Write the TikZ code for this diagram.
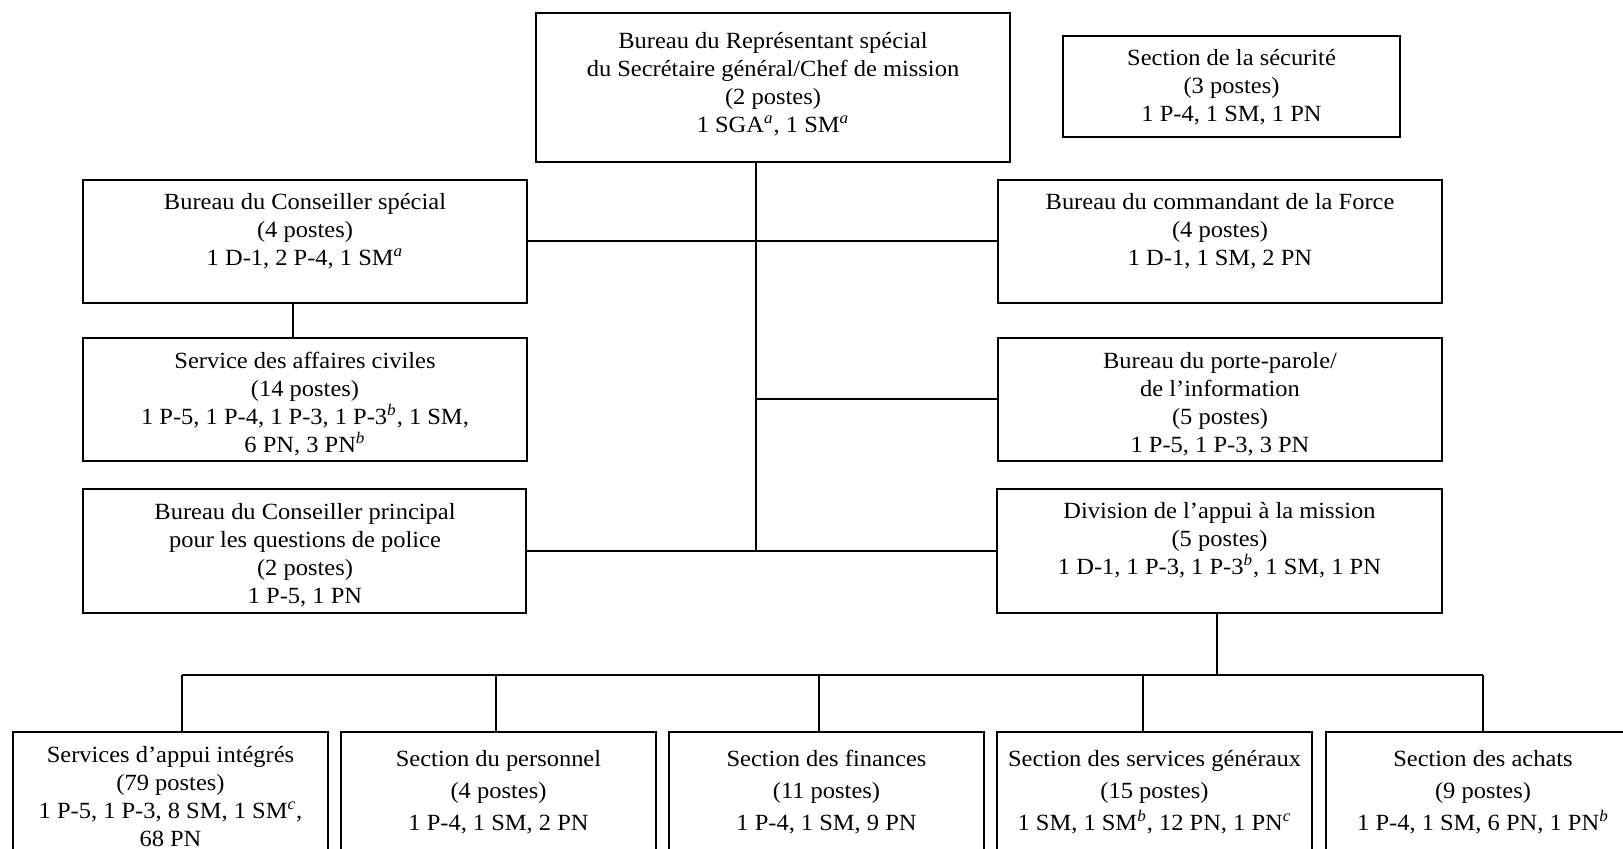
\documentclass[tikz,border=0pt]{standalone}
\usepackage{fontspec}
\setmainfont{Liberation Serif}[FakeStretch=1.055]
\usetikzlibrary{fit}
\newcommand\sux[1]{\textsuperscript{\textit{#1}}}
\newcommand\fl{\rule{0pt}{9pt}}
\begin{document}
\begin{tikzpicture}[x=0.5pt,y=-0.5pt,
  box/.style={draw, line width=1pt, inner sep=0pt, rectangle},
  txt/.style={anchor=north, align=center, inner sep=0pt, font=\fontsize{11.6}{14}\selectfont},
  txtb/.style={anchor=north, align=center, inner sep=0pt, font=\fontsize{11.6}{16}\selectfont},
  ln/.style={line width=1pt}]
\useasboundingbox (0,0) rectangle (1623,849);
\clip (0,0) rectangle (1623,849);
% boxes
\node[box, fit={(536,13) (1010,162)}] (top) {};
\node[box, fit={(1063,36) (1400,137)}] (sec) {};
\node[box, fit={(83,180) (527,303)}] (cs) {};
\node[box, fit={(83,338) (527,461)}] (civ) {};
\node[box, fit={(83,489) (526,613)}] (pol) {};
\node[box, fit={(998,180) (1442,303)}] (cmd) {};
\node[box, fit={(998,338) (1442,461)}] (pp) {};
\node[box, fit={(997,489) (1442,613)}] (div) {};
\node[box, fit={(13,732) (328,880)}] (b1) {};
\node[box, fit={(341,732) (656,880)}] (b2) {};
\node[box, fit={(669,732) (984,880)}] (b3) {};
\node[box, fit={(997,732) (1312,880)}] (b4) {};
\node[box, fit={(1326,732) (1640,880)}] (b5) {};
% texts
\node[txt] (top-t) at (773,30) {\fl Bureau du Représentant spécial\\du Secrétaire général/Chef de mission\\(2 postes)\\1 SGA\sux{a}, 1 SM\sux{a}};
\node[txt] (sec-t) at (1231.5,47) {\fl Section de la sécurité\\(3 postes)\\1 P-4, 1 SM, 1 PN};
\node[txt] (cs-t) at (305,191) {\fl Bureau du Conseiller spécial\\(4 postes)\\1 D-1, 2 P-4, 1 SM\sux{a}};
\node[txt] (civ-t) at (305,350) {\fl Service des affaires civiles\\(14 postes)\\1 P-5, 1 P-4, 1 P-3, 1 P-3\sux{b}, 1 SM,\\6 PN, 3 PN\sux{b}};
\node[txt] (pol-t) at (305,501) {\fl Bureau du Conseiller principal\\pour les questions de police\\(2 postes)\\1 P-5, 1 PN};
\node[txt] (cmd-t) at (1220,191) {\fl Bureau du commandant de la Force\\(4 postes)\\1 D-1, 1 SM, 2 PN};
\node[txt] (pp-t) at (1220,350) {\fl Bureau du porte-parole/\\de l’information\\(5 postes)\\1 P-5, 1 P-3, 3 PN};
\node[txt] (div-t) at (1219.5,500) {\fl Division de l’appui à la mission\\(5 postes)\\1 D-1, 1 P-3, 1 P-3\sux{b}, 1 SM, 1 PN};
\node[txt] (b1-t) at (170.5,744) {\fl Services d’appui intégrés\\(79 postes)\\1 P-5, 1 P-3, 8 SM, 1 SM\sux{c},\\68 PN};
\node[txtb] (b2-t) at (498.5,748) {\fl Section du personnel\\(4 postes)\\1 P-4, 1 SM, 2 PN};
\node[txtb] (b3-t) at (826.5,748) {\fl Section des finances\\(11 postes)\\1 P-4, 1 SM, 9 PN};
\node[txtb] (b4-t) at (1154.5,748) {\fl Section des services généraux\\(15 postes)\\1 SM, 1 SM\sux{b}, 12 PN, 1 PN\sux{c}};
\node[txtb] (b5-t) at (1483,748) {\fl Section des achats\\(9 postes)\\1 P-4, 1 SM, 6 PN, 1 PN\sux{b}};
% connector coordinates
\coordinate (tr) at (756,552);
\coordinate (csx) at (293,0);
\coordinate (bus) at (1217,675);
\coordinate (d1) at (182,675);
\coordinate (d2) at (496,675);
\coordinate (d3) at (819,675);
\coordinate (d4) at (1143,675);
\coordinate (d5) at (1483,675);
% connectors
\draw[ln] (tr |- top.south) -- (tr);
\draw[ln] (cs.east) -- (cmd.west);
\draw[ln] (pp.west) -- (pp.west -| tr);
\draw[ln] (pol.east) -- (div.west);
\draw[ln] (csx |- cs.south) -- (csx |- civ.north);
\draw[ln] (bus |- div.south) -- (bus);
\draw[ln] (d1) -- (d5);
\draw[ln] (d1) -- (d1 |- b1.north);
\draw[ln] (d2) -- (d2 |- b2.north);
\draw[ln] (d3) -- (d3 |- b3.north);
\draw[ln] (d4) -- (d4 |- b4.north);
\draw[ln] (d5) -- (d5 |- b5.north);
\end{tikzpicture}
\end{document}
